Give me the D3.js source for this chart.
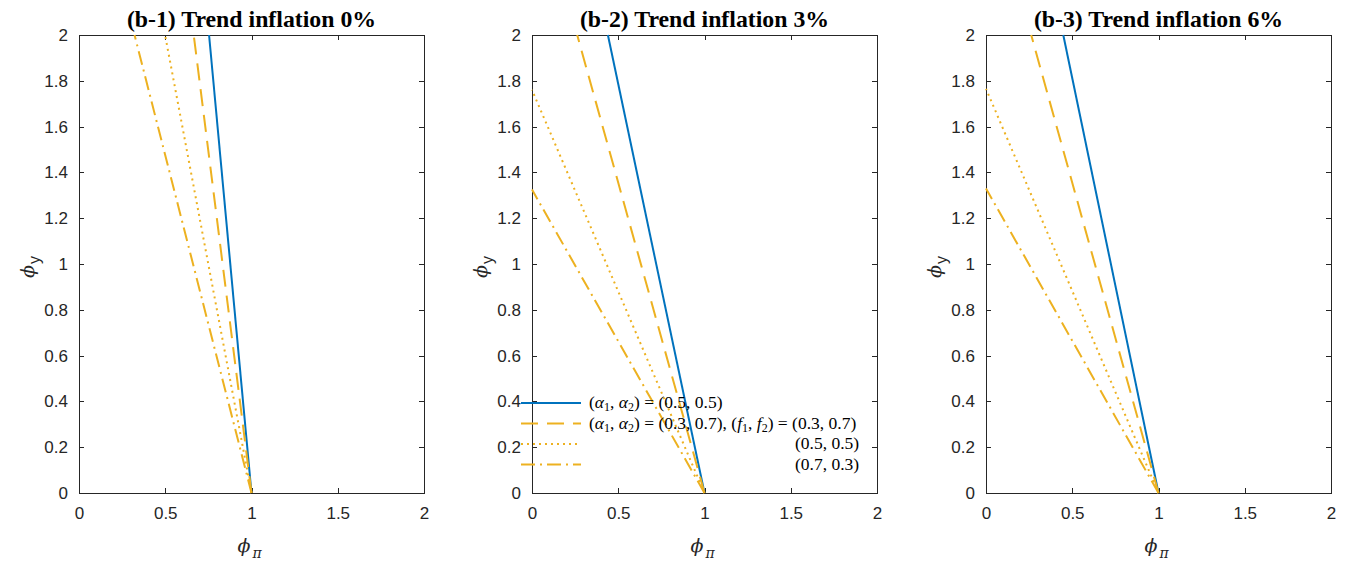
<!DOCTYPE html>
<html><head><meta charset="utf-8">
<script src="https://cdn.jsdelivr.net/npm/d3@7"></script>
<style>
html,body{margin:0;padding:0;background:#fff;}
svg{display:block;}
</style></head>
<body>
<svg id="c" width="1352" height="563"></svg>
<script>
// ---------- data ----------
const panelTitles = ["(b-1) Trend inflation 0%", "(b-2) Trend inflation 3%", "(b-3) Trend inflation 6%"];
const xTicks = [0, 0.5, 1, 1.5, 2];
const xTickLabels = ["0", "0.5", "1", "1.5", "2"];
const yTicks = [0, 0.2, 0.4, 0.6, 0.8, 1, 1.2, 1.4, 1.6, 1.8, 2];
const yTickLabels = ["0", "0.2", "0.4", "0.6", "0.8", "1", "1.2", "1.4", "1.6", "1.8", "2"];
const seriesKeys = ["solid", "dashed", "dotted", "dashdot"];
// each line: [phi_pi, phi_y] points
const b1Solid   = [[1, 0], [0.754, 2]];
const b1Dashed  = [[1, 0], [0.665, 2]];
const b1Dotted  = [[1, 0], [0.499, 2]];
const b1DashDot = [[1, 0], [0.322, 2]];
const b2Solid   = [[1, 0], [0.440, 2]];
const b2Dashed  = [[1, 0], [0.262, 2]];
const b2Dotted  = [[1, 0], [0, 1.76]];
const b2DashDot = [[1, 0], [0, 1.325]];
const b3Solid   = [[1, 0], [0.448, 2]];
const b3Dashed  = [[1, 0], [0.262, 2]];
const b3Dotted  = [[1, 0], [0, 1.765]];
const b3DashDot = [[1, 0], [0, 1.33]];
const panelSeries = [
  [b1Solid, b1Dashed, b1Dotted, b1DashDot],
  [b2Solid, b2Dashed, b2Dotted, b2DashDot],
  [b3Solid, b3Dashed, b3Dotted, b3DashDot]
];

// ---------- styles ----------
const styles = {
  solid:   {color: "#0072BD", dash: null, width: 2},
  dashed:  {color: "#EDB120", dash: "17,9", width: 2},
  dotted:  {color: "#EDB120", dash: "2,4", width: 2},
  dashdot: {color: "#EDB120", dash: "14,5,2,5", width: 2}
};
const panelX = [[79, 424], [532, 877], [986, 1331]];
const yTop = 35, yBot = 493;
const axisColor = "#262626";
const svg = d3.select("#c");

panelX.forEach((px, i) => {
  const x = d3.scaleLinear().domain([0, 2]).range(px);
  const y = d3.scaleLinear().domain([0, 2]).range([yBot, yTop]);
  const g = svg.append("g");

  // box
  g.append("rect").attr("x", px[0]).attr("y", yTop)
    .attr("width", px[1] - px[0]).attr("height", yBot - yTop)
    .attr("fill", "none").attr("stroke", axisColor).attr("stroke-width", 1).attr("shape-rendering", "crispEdges");

  // axes
  const fmtX = d => xTickLabels[xTicks.indexOf(d)];
  const fmtY = d => yTickLabels[yTicks.indexOf(d)];
  const ax = [
    [d3.axisBottom(x).tickValues(xTicks).tickFormat(fmtX).tickSize(-5).tickPadding(14), `translate(0,${yBot})`],
    [d3.axisTop(x).tickValues(xTicks).tickFormat("").tickSize(-5), `translate(0,${yTop})`],
    [d3.axisLeft(y).tickValues(yTicks).tickFormat(fmtY).tickSize(-5).tickPadding(11), `translate(${px[0]},0)`],
    [d3.axisRight(y).tickValues(yTicks).tickFormat("").tickSize(-5), `translate(${px[1]},0)`]
  ];
  ax.forEach(([a, t]) => {
    const ag = g.append("g").attr("transform", t).call(a.tickSizeOuter(0));
    ag.select(".domain").remove();
    ag.selectAll("line").attr("stroke", axisColor).attr("shape-rendering", "crispEdges");
    ag.selectAll("text").attr("fill", axisColor).style("font-family", "'Liberation Sans', Arial, sans-serif").style("font-size", "17px");
  });

  // lines
  const line = d3.line().x(d => x(d[0])).y(d => y(d[1]));
  panelSeries[i].forEach((pts, k) => {
    const s = styles[seriesKeys[k]];
    g.append("path").attr("d", line(pts)).attr("fill", "none")
      .attr("stroke", s.color).attr("stroke-width", s.width)
      .attr("stroke-dasharray", s.dash);
  });

  // title
  g.append("text").attr("x", (px[0] + px[1]) / 2).attr("y", 27)
    .attr("text-anchor", "middle")
    .style("font-family", "'Liberation Serif', 'Times New Roman', serif")
    .style("font-weight", "bold").style("font-size", "23.8px").attr("fill", "#000")
    .text(panelTitles[i]);

  // x label
  const xl = g.append("text").attr("x", (px[0] + px[1]) / 2 - 14).attr("y", 552)
    .attr("fill", axisColor);
  xl.append("tspan").style("font-family", "'DejaVu Serif', serif").style("font-style", "italic").style("font-size", "19px").text("ϕ");
  xl.append("tspan").attr("dy", 6).attr("dx", 2).style("font-family", "'DejaVu Serif', serif").style("font-style", "italic").style("font-size", "14px").text("π");

  // y label
  const yl = g.append("text").attr("transform", `translate(${px[0] - 45},${(yTop + yBot) / 2 + 14}) rotate(-90)`)
    .attr("fill", axisColor);
  yl.append("tspan").style("font-family", "'DejaVu Serif', serif").style("font-style", "italic").style("font-size", "19px").text("ϕ");
  yl.append("tspan").attr("dy", 6).attr("dx", 1).style("font-family", "'Liberation Sans', sans-serif").style("font-size", "16px").text("y");
});

// ---------- legend (panel 2) ----------
const legendRows = [
  [["(", "n"], ["α", "i"], ["1", "s"], [", ", "n"], ["α", "i"], ["2", "s"], [") = (0.5, 0.5)", "n"]],
  [["(", "n"], ["α", "i"], ["1", "s"], [", ", "n"], ["α", "i"], ["2", "s"], [") = (0.3, 0.7), (", "n"], ["f", "i"], ["1", "s"], [", ", "n"], ["f", "i"], ["2", "s"], [") = (0.3, 0.7)", "n"]],
  [["(0.5, 0.5)", "n"]],
  [["(0.7, 0.3)", "n"]]
];
const lg = svg.append("g");
const rowY = [403, 423.5, 444, 464.5];
const textX = [589, 589, 795, 795];
legendRows.forEach((parts, r) => {
  const s = styles[seriesKeys[r]];
  lg.append("line").attr("x1", 521).attr("x2", 581).attr("y1", rowY[r]).attr("y2", rowY[r])
    .attr("stroke", s.color).attr("stroke-width", s.width).attr("stroke-dasharray", s.dash);
  const t = lg.append("text").attr("x", textX[r]).attr("y", rowY[r] + 5)
    .style("font-family", "'Liberation Serif', 'Times New Roman', serif").style("font-size", "17.5px").attr("fill", "#000");
  let sub = false;
  parts.forEach(([str, kind]) => {
    const ts = t.append("tspan").text(str);
    if (kind === "i") ts.style("font-style", "italic");
    if (kind === "s") { ts.attr("dy", 3).style("font-size", "12px"); sub = true; }
    else if (sub) { ts.attr("dy", -3); sub = false; }
  });
});
</script>
</body></html>
